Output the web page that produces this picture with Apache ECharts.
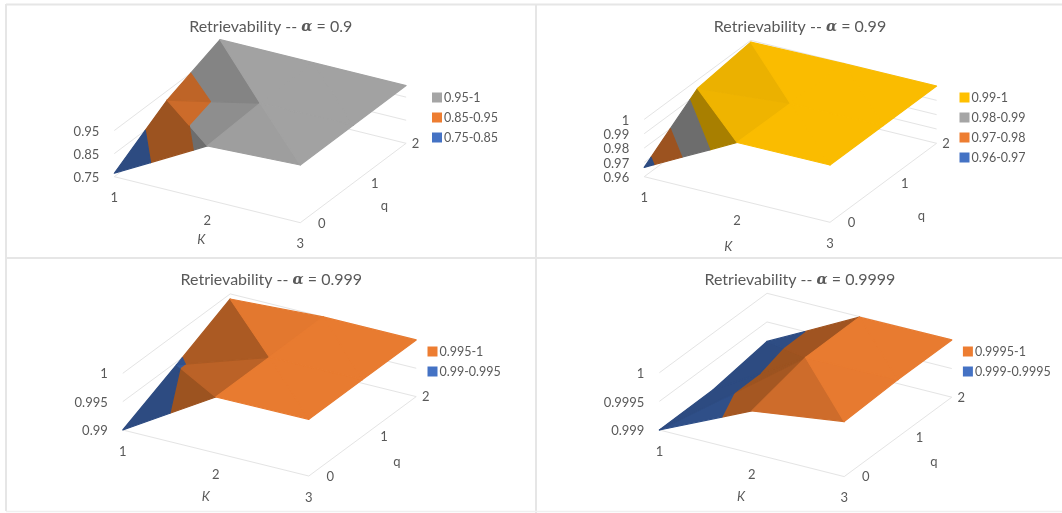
<!DOCTYPE html>
<html>
<head>
<meta charset="utf-8">
<style>html,body{margin:0;padding:0;background:#fff}#c{width:1062px;height:513px}</style>
<script src="https://cdn.jsdelivr.net/npm/echarts@6/dist/echarts.min.js"></script>
</head>
<body>
<div id="c"></div>
<script>
// ---------- data ----------
const kLabels = [1, 2, 3];
const qLabels = [0, 1, 2];

const titles = ['0.9', '0.99', '0.999', '0.9999'];

// surface values: rows = K, columns = q
const surfaceA = [[0.765, 0.91, 1], [0.983, 0.996, 1], [1, 1, 1]];
const surfaceB = [[0.9665, 0.994, 0.9988], [0.9998, 0.9995, 0.9998], [1, 1, 1]];
const surfaceC = [[0.99, 0.9945, 0.9991], [0.99988, 0.99988, 1], [1, 1, 1]];
const surfaceD = [[0.999, 0.99901, 0.99916], [0.99974, 0.99998, 0.99999], [0.99996, 1, 1]];

// value axis labels
const ticksA = ['0.75', '0.85', '0.95'];
const ticksB = ['0.96', '0.97', '0.98', '0.99', '1'];
const ticksC = ['0.99', '0.995', '1'];
const ticksD = ['0.999', '0.9995', '1'];

const rangeA = [0.75, 1];
const rangeB = [0.96, 1];
const rangeC = [0.99, 1];
const rangeD = [0.999, 1];

// legend bands
const bandsA = ['0.95-1', '0.85-0.95', '0.75-0.85'];
const bandsB = ['0.99-1', '0.98-0.99', '0.97-0.98', '0.96-0.97'];
const bandsC = ['0.995-1', '0.99-0.995'];
const bandsD = ['0.9995-1', '0.999-0.9995'];

const coloursA = ['#A5A5A5', '#ED7D31', '#4472C4'];
const coloursB = ['#FFC000', '#A5A5A5', '#ED7D31', '#4472C4'];
const coloursC = ['#ED7D31', '#4472C4'];
const coloursD = ['#ED7D31', '#4472C4'];

// cells whose dividing diagonal runs K,q -> K+1,q+1
const mainDiagA = [];
const mainDiagB = [];
const mainDiagC = [];
const mainDiagD = [[0, 0]];

// ---------- layout (page pixels) ----------
const FONT = 'Lato';
const TXT = '#595959';
const panels = [
  {s: surfaceA, t: ticksA, r: rangeA, b: bandsA, c: coloursA, d: mainDiagA,
   rect: [6, 5, 530, 253], o: [114.3, 176.7], kv: [93, 23], qv: [52.9, -39.7], h: 57.7,
   kTitle: [201.3, 240], qTitle: [384.5, 206], title: [270.7, 19], legend: [432, 89.5]},
  {s: surfaceB, t: ticksB, r: rangeB, b: bandsB, c: coloursB, d: mainDiagB,
   rect: [536, 5, 526, 253], o: [644.2, 176.7], kv: [92.9, 22.8], qv: [53.3, -39.5], h: 57.3,
   kTitle: [728.3, 246.7], qTitle: [921.5, 216], title: [800, 19], legend: [959.5, 89.5]},
  {s: surfaceC, t: ticksC, r: rangeC, b: bandsC, c: coloursC, d: mainDiagC,
   rect: [6, 258, 530, 253], o: [122.8, 430], kv: [93, 23], qv: [53.7, -39.7], h: 56.7,
   kTitle: [205.7, 496.7], qTitle: [396.8, 462.3], title: [271.3, 272], legend: [427.5, 343.5]},
  {s: surfaceD, t: ticksD, r: rangeD, b: bandsD, c: coloursD, d: mainDiagD,
   rect: [536, 258, 526, 253], o: [659.4, 430], kv: [92.4, 23.3], qv: [53.8, -39.7], h: 57.3,
   kTitle: [741, 496.7], qTitle: [934, 461.7], title: [799.9, 272], legend: [962.9, 343.5]}
];
const qLabelOffset = [21.5, 21.5, 9.5];

function project(p, k, q, v) {
  const z = (v - p.r[0]) / (p.r[1] - p.r[0]) * p.h;
  return [p.o[0] + k * p.kv[0] + q * p.qv[0], p.o[1] + k * p.kv[1] + q * p.qv[1] - z];
}

// ---------- surface triangulation and band clipping ----------
function triangles(p) {
  const out = [];
  for (let k = 0; k < kLabels.length - 1; k++) {
    for (let q = 0; q < qLabels.length - 1; q++) {
      const a = [k, q, p.s[k][q]], b = [k + 1, q, p.s[k + 1][q]],
            c = [k + 1, q + 1, p.s[k + 1][q + 1]], d = [k, q + 1, p.s[k][q + 1]];
      const main = p.d.some(m => m[0] === k && m[1] === q);
      if (main) out.push([a, b, c], [a, c, d]);
      else out.push([a, b, d], [d, b, c]);
    }
  }
  return out;
}
function clip(poly, level, keepAbove) {
  const res = [];
  for (let i = 0; i < poly.length; i++) {
    const A = poly[i], B = poly[(i + 1) % poly.length];
    const ia = keepAbove ? A[2] >= level : A[2] <= level;
    const ib = keepAbove ? B[2] >= level : B[2] <= level;
    if (ia) res.push(A);
    if (ia !== ib) {
      const t = (level - A[2]) / (B[2] - A[2]);
      res.push([A[0] + t * (B[0] - A[0]), A[1] + t * (B[1] - A[1]), level]);
    }
  }
  return res;
}
function shade(tri, p) {
  const [a, b, c] = tri, span = p.r[1] - p.r[0];
  const ux = b[0] - a[0], uy = b[1] - a[1], uz = (b[2] - a[2]) / span;
  const vx = c[0] - a[0], vy = c[1] - a[1], vz = (c[2] - a[2]) / span;
  const det = ux * vy - uy * vx;
  const gk = (uz * vy - uy * vz) / det, gq = (ux * vz - uz * vx) / det;
  const g = Math.hypot(gk, gq);
  return Math.max(0.66, 0.98 - 0.38 * Math.max(0, g - 0.03));
}
function tint(hex, f) {
  const n = parseInt(hex.slice(1), 16);
  return 'rgb(' + [(n >> 16) & 255, (n >> 8) & 255, n & 255].map(x => Math.round(x * f)).join(',') + ')';
}

// ---------- option ----------
const option = {
  animation: false, backgroundColor: '#fff',
  title: [], legend: [], grid: [], xAxis: [], yAxis: [], series: [],
  graphic: [
    {type: 'line', shape: {x1: 6, y1: 4.5, x2: 1062, y2: 4.5}, style: {stroke: '#E6E6E6', lineWidth: 2}},
    {type: 'line', shape: {x1: 6, y1: 4, x2: 6, y2: 511}, style: {stroke: '#E6E6E6', lineWidth: 2}},
    {type: 'line', shape: {x1: 6, y1: 258, x2: 1062, y2: 258}, style: {stroke: '#E6E6E6', lineWidth: 2}},
    {type: 'line', shape: {x1: 536, y1: 4, x2: 536, y2: 513}, style: {stroke: '#E6E6E6', lineWidth: 2}},
    {type: 'line', shape: {x1: 6, y1: 511.5, x2: 1062, y2: 511.5}, style: {stroke: '#F0F0F0', lineWidth: 1.5}}
  ]
};

panels.forEach((p, i) => {
  const [x, y, w, ht] = p.rect;
  option.title.push({
    text: 'Retrievability -- {a|\u03B1} = ' + titles[i],
    left: p.title[0], top: p.title[1], textAlign: 'center', padding: 0,
    textStyle: {
      fontFamily: FONT, fontSize: 16, fontWeight: 'normal', color: TXT,
      rich: {a: {fontFamily: 'DejaVu Serif', fontStyle: 'italic', fontWeight: 'bold', fontSize: 14.5, color: TXT}}
    }
  });
  option.legend.push({
    data: p.b, orient: 'vertical', left: p.legend[0], top: p.legend[1], padding: 0,
    itemWidth: 10, itemHeight: 10, itemGap: 4, selectedMode: false, icon: 'rect',
    textStyle: {fontFamily: FONT, fontSize: 12.5, color: TXT, padding: [0, 0, 0, -3], height: 16, lineHeight: 16}
  });
  option.grid.push({left: x, top: y, width: w, height: ht, show: false});
  option.xAxis.push({type: 'value', gridIndex: i, min: x, max: x + w, show: false});
  option.yAxis.push({type: 'value', gridIndex: i, min: y, max: y + ht, inverse: true, show: false});

  // frame: walls, floor and axis labels
  option.series.push({
    type: 'custom', name: 'frame' + i, xAxisIndex: i, yAxisIndex: i, silent: true, clip: false, z: 1,
    data: [[x, y]],
    renderItem: (params, api) => {
      const C = pt => api.coord(pt);
      const children = [];
      const line = pts => children.push({type: 'polyline', shape: {points: pts.map(C)},
        style: {stroke: '#E4E4E4', lineWidth: 1, fill: null}});
      const text = (s, pt, align, extra) => {
        const c = C(pt);
        children.push({type: 'text', style: Object.assign({text: s, x: c[0], y: c[1], fill: TXT, align: align,
          verticalAlign: 'middle', fontFamily: FONT, fontSize: 13}, extra || {})});
      };
      const kn = kLabels.length - 1, qn = qLabels.length - 1;
      line([project(p, 0, 0, p.r[0]), project(p, kn, 0, p.r[0]), project(p, kn, qn, p.r[0])]);
      p.t.forEach(t => {
        const v = parseFloat(t);
        line([project(p, 0, 0, v), project(p, 0, qn, v), project(p, kn, qn, v)]);
        const a = project(p, 0, 0, v);
        text(t, [a[0] - 15, a[1] + 1], 'right');
      });
      kLabels.forEach((l, k) => {
        const a = project(p, k, 0, p.r[0]);
        text(String(l), [a[0], a[1] + 21.5], 'center');
      });
      qLabels.forEach((l, q) => {
        const a = project(p, kn, q, p.r[0]);
        text(String(l), [a[0] + qLabelOffset[q], a[1] + 0.7], 'center');
      });
      text('K', p.kTitle, 'center', {fontStyle: 'italic', fontSize: 13});
      text('q', p.qTitle, 'center', {fontSize: 13});
      return {type: 'group', children};
    }
  });

  // one series per legend band
  const tris = triangles(p);
  p.b.forEach((name, bi) => {
    const parts = name.split('-').map(parseFloat);
    const lo = parts[0], hi = parts[1];
    const polys = [];
    tris.forEach(tri => {
      let poly = clip(tri, lo, true);
      if (poly.length) poly = clip(poly, hi, false);
      if (poly.length >= 3) polys.push({pts: poly, f: shade(tri, p)});
    });
    option.series.push({
      type: 'custom', name, xAxisIndex: i, yAxisIndex: i, silent: true, clip: false, z: 2,
      itemStyle: {color: p.c[bi]},
      data: polys.map(pl => [pl.pts[0][0], pl.pts[0][2]]),
      renderItem: (params, api) => {
        const pl = polys[params.dataIndex];
        const col = tint(p.c[bi], pl.f);
        return {type: 'polygon',
          shape: {points: pl.pts.map(v => api.coord(project(p, v[0], v[1], v[2])))},
          style: {fill: col, stroke: col, lineWidth: 1.2, lineJoin: 'round'}};
      }
    });
  });
});

const chart = echarts.init(document.getElementById('c'), null, {renderer: 'canvas'});
chart.setOption(option);
</script>
</body>
</html>
